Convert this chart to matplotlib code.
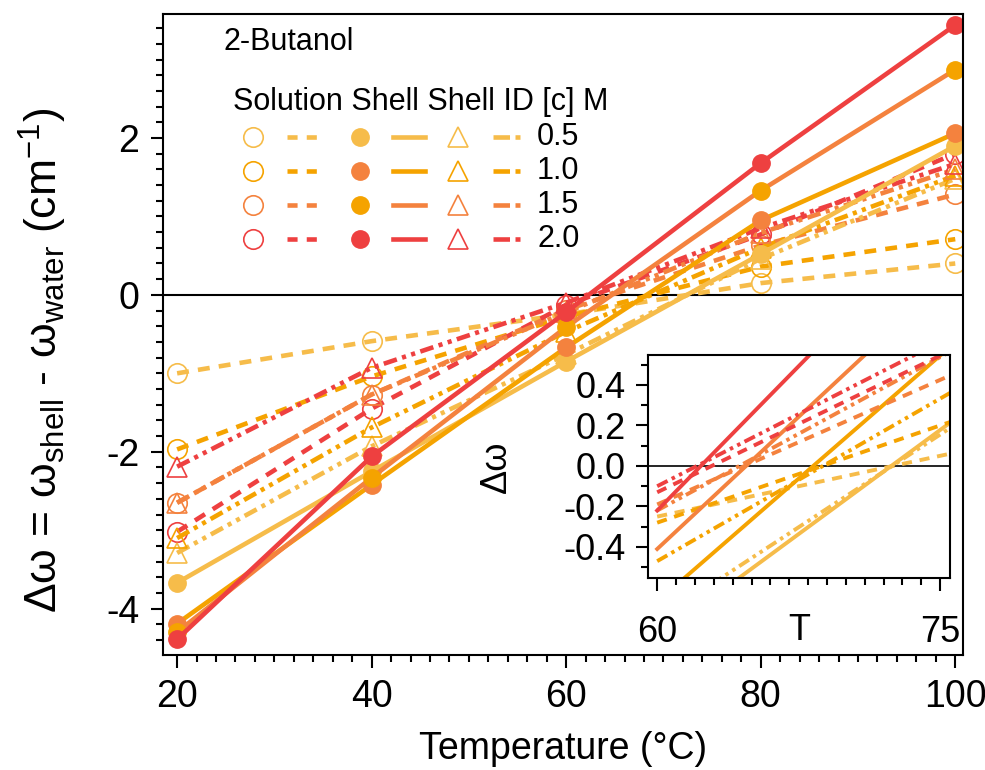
import matplotlib
matplotlib.use("Agg")
import matplotlib.pyplot as plt
from matplotlib.ticker import MultipleLocator

plt.rcParams['font.family'] = ['Liberation Sans', 'DejaVu Sans']
plt.rcParams['mathtext.fontset'] = 'custom'
plt.rcParams['mathtext.rm'] = 'Liberation Sans'
plt.rcParams['mathtext.it'] = 'Liberation Sans:italic'
plt.rcParams['axes.unicode_minus'] = False

# data
temps = [20, 40, 60, 80, 100]
conc_labels = ["0.5", "1.0", "1.5", "2.0"]
colors = ['#F6BC4A', '#F5A300', '#F4823E', '#EE4040']
# filled-marker colours of the shell series (as drawn in the original)
shell_marker_colors = ['#F6BC4A', '#F4823E', '#F5A300', '#EE4040']

solution = [
    [-1.00, -0.59, -0.25, 0.15, 0.40],
    [-1.97, -1.04, -0.28, 0.36, 0.71],
    [-2.65, -1.27, -0.19, 0.63, 1.28],
    [-3.02, -1.45, -0.13, 0.77, 1.80],
]
shell = [
    [-3.67, -2.25, -0.85, 0.52, 1.90],
    [-4.19, -2.42, -0.67, 0.95, 2.06],
    [-4.30, -2.33, -0.41, 1.33, 2.87],
    [-4.39, -2.06, -0.22, 1.68, 3.44],
]
shell_id = [
    [-3.29, -1.93, -0.76, 0.46, 1.48],
    [-3.10, -1.69, -0.47, 0.60, 1.52],
    [-2.65, -1.27, -0.22, 0.79, 1.60],
    [-2.19, -0.93, -0.10, 0.85, 1.67],
]

dash_sol = (0, (2.6, 2.0))
dash_id = (0, (3.0, 1.2, 0.9, 1.2, 0.9, 1.2))
LW = 3.3

fig = plt.figure(figsize=(9.85, 7.7), dpi=100)
ax = fig.add_axes([0.1655, 0.1494, 0.8122, 0.8324])

for i in range(4):
    ax.plot(temps, solution[i], linestyle=dash_sol, color=colors[i], lw=LW,
            marker='o', ms=14, mfc='none', mec=colors[i], mew=1.2)
for i in range(4):
    ax.plot(temps, shell_id[i], linestyle=dash_id, color=colors[i], lw=LW,
            marker='^', ms=15, mfc='none', mec=colors[i], mew=1.2)
for i in range(4):
    ax.plot(temps, shell[i], linestyle='-', color=colors[i], lw=LW,
            marker='o', ms=12.5, mfc=shell_marker_colors[i],
            mec=shell_marker_colors[i])

ax.axhline(0, color='black', lw=1.5, zorder=0)
ax.set_xlim(18.55, 100.8)
ax.set_ylim(-4.59, 3.58)
ax.set_xticks(temps)
ax.set_yticks([-4, -2, 0, 2])
ax.xaxis.set_minor_locator(MultipleLocator(2))
ax.yaxis.set_minor_locator(MultipleLocator(0.2))
ax.tick_params(which='major', direction='out', length=9, width=1.5,
               labelsize=27, pad=8, top=False, right=False)
ax.tick_params(which='minor', direction='out', length=5, width=1.5,
               top=False, right=False)
for s in ax.spines.values():
    s.set_linewidth(1.5)
ax.set_xlabel("Temperature (°C)", fontsize=27, labelpad=12)
ax.set_ylabel(r"Δω = ω$_{\mathrm{shell}}$ - ω$_{\mathrm{water}}$ (cm$^{-1}$)",
              fontsize=32)
ax.yaxis.set_label_coords(-0.117, 0.46)

# custom legend
tr = ax.transAxes
ax.text(0.076, 0.956, "2-Butanol", transform=tr, fontsize=22, va='center')
ax.text(0.0875, 0.863, "Solution Shell Shell ID [c] M", transform=tr,
        fontsize=22, va='center')
rows = [0.808, 0.755, 0.702, 0.649]
for i, yr in enumerate(rows):
    ax.plot([0.1125], [yr], transform=tr, marker='o', ms=14, mfc='none',
            mec=colors[i], mew=1.2, clip_on=False)
    ax.plot([0.155, 0.1925], [yr, yr], transform=tr, color=colors[i], lw=LW,
            linestyle=(0, (2.2, 2.0)), clip_on=False)
    ax.plot([0.246], [yr], transform=tr, marker='o', ms=12.5,
            mfc=shell_marker_colors[i], mec=shell_marker_colors[i],
            clip_on=False)
    ax.plot([0.2875, 0.3275], [yr, yr], transform=tr, color=colors[i], lw=LW,
            clip_on=False)
    ax.plot([0.369], [yr], transform=tr, marker='^', ms=15, mfc='none',
            mec=colors[i], mew=1.2, clip_on=False)
    ax.plot([0.4125, 0.446], [yr, yr], transform=tr, color=colors[i], lw=LW,
            linestyle=(0, (3.6, 1.2, 1.1, 3)), clip_on=False)
    ax.text(0.4675, yr, conc_labels[i], transform=tr, fontsize=22,
            va='center')

# inset
axi = fig.add_axes([0.658, 0.2494, 0.3066, 0.2896])
for i in range(4):
    axi.plot(temps[2:], solution[i][2:], linestyle=dash_sol, color=colors[i],
             lw=2.8)
    axi.plot(temps[2:], shell_id[i][2:], linestyle=dash_id, color=colors[i],
             lw=2.8)
    axi.plot(temps[2:], shell[i][2:], linestyle='-', color=colors[i], lw=2.8)
axi.axhline(0, color='black', lw=1.2, zorder=0)
axi.set_xlim(59.52, 75.53)
axi.set_ylim(-0.553, 0.548)
axi.set_xticks([60, 75])
axi.set_yticks([-0.4, -0.2, 0.0, 0.2, 0.4])
axi.set_yticklabels(["-0.4", "-0.2", "0.0", "0.2", "0.4"])
axi.xaxis.set_minor_locator(MultipleLocator(1))
axi.yaxis.set_minor_locator(MultipleLocator(0.1))
axi.tick_params(axis='x', which='major', direction='out', length=9,
                width=1.5, labelsize=26, pad=18)
axi.tick_params(axis='y', which='major', direction='out', length=9,
                width=1.5, labelsize=26, pad=7)
axi.tick_params(which='minor', direction='out', length=5, width=1.5)
for s in axi.spines.values():
    s.set_linewidth(1.5)
axi.set_xlabel("T", fontsize=26, labelpad=-27)
axi.set_ylabel("Δω", fontsize=26, labelpad=36)

fig.savefig("out.png", dpi=100)
